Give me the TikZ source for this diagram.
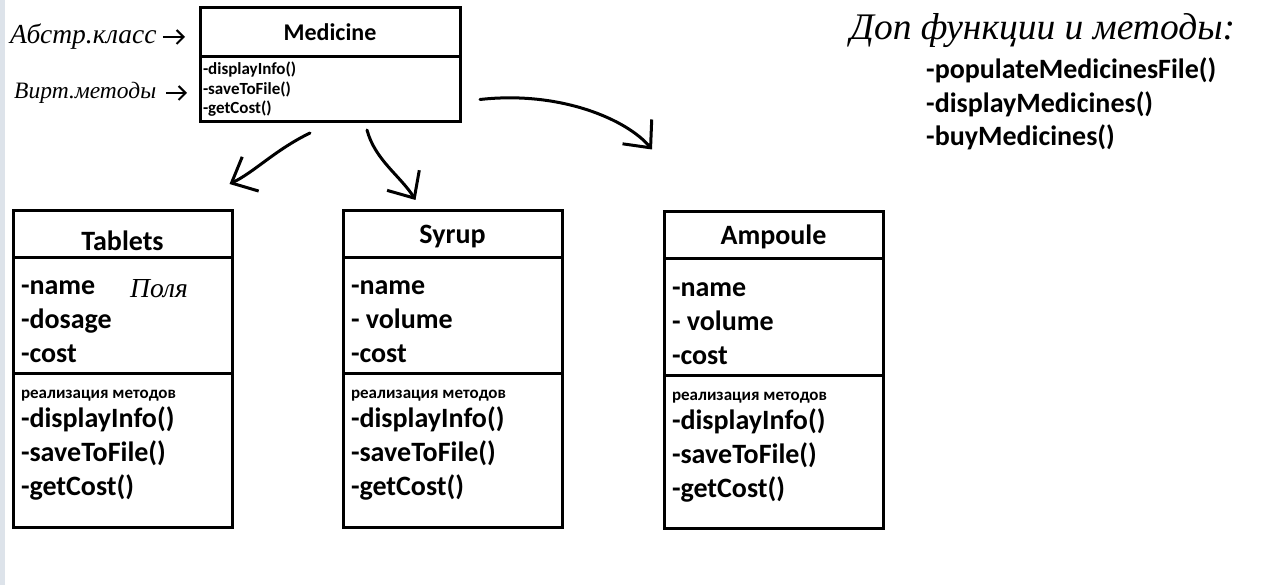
\documentclass[tikz,border=0pt]{standalone}
\usepackage{fontspec}
\setmainfont{Carlito}
\newfontfamily\handfont{Liberation Serif}
\usetikzlibrary{positioning}
\usetikzlibrary{calc}
\usetikzlibrary{arrows.meta}
\definecolor{stripgrey}{HTML}{DDE3EA}

\begin{document}
\begin{tikzpicture}[x=1pt,y=-1pt,
	classtitle/.style={rectangle,draw=black,line width=3pt,outer sep=0pt,inner sep=0pt,minimum width=219pt,minimum height=47pt,text height=24pt,text depth=6pt,font=\fontsize{28}{34}\selectfont\bfseries},
	classpart/.style={rectangle,draw=black,line width=3pt,outer sep=0pt,inner xsep=8pt,inner ysep=0pt,minimum width=219pt,text width=203pt,align=flush left,font=\fontsize{28}{34}\selectfont\bfseries},
	hand/.style={inner sep=0pt,font=\handfont\itshape\fontsize{27.5}{30}\selectfont},
	handarrow/.style={line width=2pt,-{Straight Barb[length=7pt,width=14pt]}},
	inherit/.style={line width=3pt,line cap=round,-{Straight Barb[length=21pt,width=38pt]}},
	node distance=0pt]
	\useasboundingbox (0,0) rectangle (1280,585);
	\fill[stripgrey] (0,0) rectangle (5,585);
	% abstract class
	\node[classtitle,anchor=north west,minimum width=260pt,minimum height=49pt,text height=19pt,text depth=3pt,font=\fontsize{24}{28}\selectfont\bfseries] (med) at (200,8) {Medicine};
	\node[classpart,below=of med,minimum width=260pt,text width=254pt,inner xsep=3pt,minimum height=65pt,font=\fontsize{17}{19.5}\selectfont\bfseries] (medm) {-displayInfo()\\-saveToFile()\\-getCost()};
	% derived classes
	\node[classtitle,anchor=north west,text height=37pt,text depth=5pt] (tab) at (13,211) {Tablets};
	\node[classpart,below=of tab,minimum height=115pt] (tabf) {\rule{0pt}{27pt}-name\\-dosage\\-cost};
	\node[classpart,below=of tabf,minimum height=154pt] (tabm) {{\fontsize{17}{20}\selectfont реализация методов}\\[-5pt]-displayInfo()\\-saveToFile()\\-getCost()\\[-20pt]\mbox{}};
	\node[classtitle,anchor=north west] (syr) at (343,211) {Syrup};
	\node[classpart,below=of syr,minimum height=115pt] (syrf) {\rule{0pt}{27pt}-name\\- volume\\-cost};
	\node[classpart,below=of syrf,minimum height=154pt] (syrm) {{\fontsize{17}{20}\selectfont реализация методов}\\[-5pt]-displayInfo()\\-saveToFile()\\-getCost()\\[-20pt]\mbox{}};
	\node[classtitle,anchor=north west] (amp) at (664,212) {Ampoule};
	\node[classpart,below=of amp,minimum height=116pt] (ampf) {\rule{0pt}{27pt}-name\\- volume\\-cost};
	\node[classpart,below=of ampf,minimum height=153pt] (ampm) {{\fontsize{17}{20}\selectfont реализация методов}\\[-5pt]-displayInfo()\\-saveToFile()\\-getCost()\\[-20pt]\mbox{}};
	% extra functions
	\node[hand,anchor=west,font=\handfont\itshape\fontsize{37.5}{40}\selectfont] (extrah) at (850,31) {Доп функции и методы:};
	\node[anchor=north west,inner sep=0pt,align=flush left,font=\fontsize{28}{33.5}\selectfont\bfseries] (extra) at (926,58) {-populateMedicinesFile()\\-displayMedicines()\\-buyMedicines()};
	% handwritten notes
	\node[hand,anchor=west] (abstr) at (10,37) {Абстр.класс};
	\node[hand,anchor=west,font=\handfont\itshape\fontsize{23.5}{26}\selectfont] (virt) at (14,93) {Вирт.методы};
	\node[hand,anchor=west] (fields) at (130,289) {Поля};
	\draw[handarrow,shorten <=6pt,shorten >=15pt] (abstr) -- (abstr -| med.west);
	\draw[handarrow,shorten <=10pt,shorten >=13pt] (virt) -- (virt -| medm.west);
	% inheritance arrows
	\coordinate (t1) at ($(medm.south)+(-20,11)$);
	\coordinate (t2) at ($(tab.north)+(107,-27)$);
	\coordinate (s1) at ($(medm.south)+(37,8)$);
	\coordinate (s2) at ($(syr.north)+(-37,-11)$);
	\coordinate (a1) at ($(medm.east)+(20,10)$);
	\coordinate (a2) at ($(medm.east)+(192,60)$);
	\draw[inherit] (t1) .. controls +(-35,17) and +(25,-12) .. (t2);
	\draw[inherit] (s1) .. controls +(8,30) and +(-15,-24) .. (s2);
	\draw[inherit] (a1) .. controls +(80,-9) and +(-25,-30) .. (a2);
\end{tikzpicture}
\end{document}
